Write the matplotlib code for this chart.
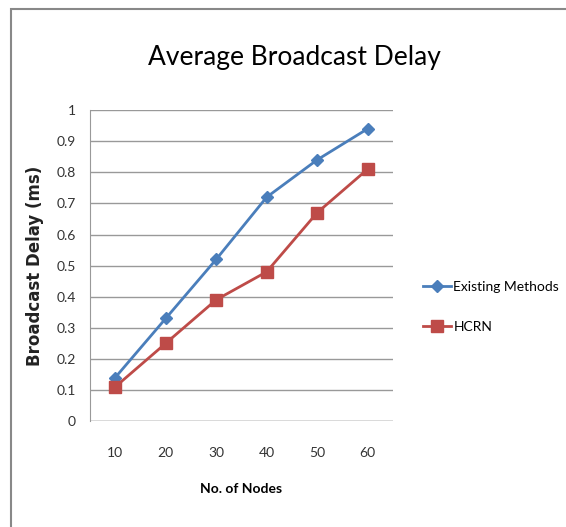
import matplotlib
matplotlib.use('Agg')
import matplotlib.pyplot as plt
from matplotlib.patches import Rectangle

# data
nodes = ['10', '20', '30', '40', '50', '60']
existing = [0.14, 0.33, 0.52, 0.72, 0.84, 0.94]
hcrn = [0.11, 0.25, 0.39, 0.48, 0.67, 0.81]

plt.rcParams['font.family'] = ['Lato', 'DejaVu Sans']

fig = plt.figure(figsize=(5.66, 5.27), dpi=100)
fig.patches.append(Rectangle((0.02, -0.01), 1.0, 0.992, transform=fig.transFigure,
                             fill=False, edgecolor='#888888', lw=1.5))

ax = fig.add_axes([0.159, 0.201, 0.535, 0.59])
x = range(len(nodes))
ax.plot(x, existing, color='#4a7ebb', lw=2, marker='D', ms=6, label='Existing Methods')
ax.plot(x, hcrn, color='#be4b48', lw=2, marker='s', ms=8, label='HCRN')

ax.set_xlim(-0.5, len(nodes) - 0.5)
ax.set_ylim(0, 1)
ax.set_xticks(list(x))
ax.set_xticklabels(nodes, fontsize=10)
ax.set_yticks([i / 10 for i in range(11)])
ax.set_yticklabels(['0', '0.1', '0.2', '0.3', '0.4', '0.5', '0.6', '0.7', '0.8', '0.9', '1'], fontsize=10)
ax.grid(axis='y', color='#999999', lw=1)
ax.set_axisbelow(True)
for s in ['top', 'right', 'bottom']:
    ax.spines[s].set_visible(False)
ax.spines['left'].set_color('#999999')
ax.axhline(0, color='#999999', lw=1)
ax.tick_params(axis='y', length=0, colors='#333333', pad=10)
ax.tick_params(axis='x', length=0, colors='#333333', pad=19)

ax.set_xlabel('No. of Nodes', fontsize=10, fontweight='bold', labelpad=17)
ax.set_ylabel('Broadcast Delay (ms)', fontsize=12, fontweight='bold', labelpad=9,
              family='DejaVu Sans', color='#222222')
fig.text(0.52, 0.89, 'Average Broadcast Delay', fontsize=19, ha='center', va='center')

fig.legend(loc='center left', bbox_to_anchor=(0.725, 0.417), frameon=False,
           fontsize=10, labelspacing=2.0, handlelength=2.0, handletextpad=0.2)

fig.savefig('out.png', dpi=100)
